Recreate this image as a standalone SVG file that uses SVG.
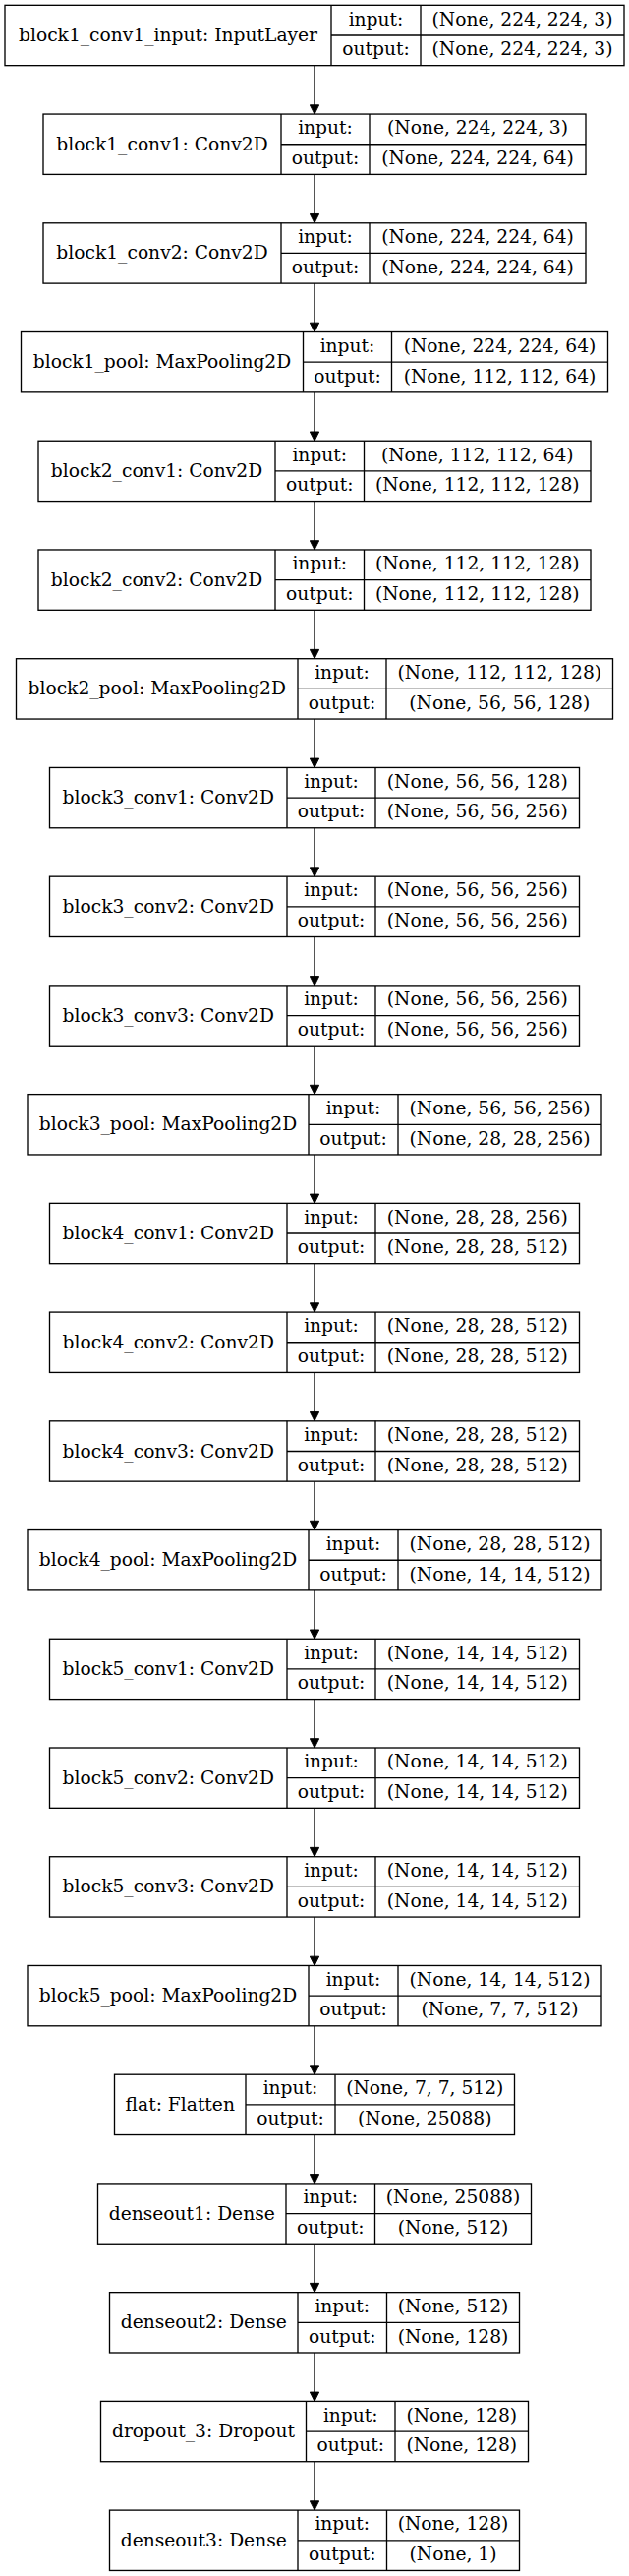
<svg xmlns="http://www.w3.org/2000/svg" width="640" height="2619" viewBox="0 0 640 2619">
<style>
.n rect{fill:#fff;stroke:#000;stroke-width:1.33}
.n line{stroke:#000;stroke-width:1.33}
text{font-family:"DejaVu Serif","Liberation Serif",serif;font-size:18.67px;text-anchor:middle;fill:#000}
.e line{stroke:#000;stroke-width:1.33}
</style>
<defs>
<marker id="ah" viewBox="0 0 10 10" refX="10" refY="5" markerWidth="13.33" markerHeight="9.33" markerUnits="userSpaceOnUse" orient="auto">
<path d="M0,0 L10,5 L0,10 z" fill="#000" stroke="#000"/>
</marker>
</defs>
<rect width="640" height="2619" fill="#fff"/>
<g id="connectors" class="e">
<line x1="320" y1="66.7" x2="320" y2="116.1" marker-end="url(#ah)"/>
<line x1="320" y1="177.4" x2="320" y2="226.8" marker-end="url(#ah)"/>
<line x1="320" y1="288.1" x2="320" y2="337.5" marker-end="url(#ah)"/>
<line x1="320" y1="398.9" x2="320" y2="448.3" marker-end="url(#ah)"/>
<line x1="320" y1="509.6" x2="320" y2="559.0" marker-end="url(#ah)"/>
<line x1="320" y1="620.3" x2="320" y2="669.7" marker-end="url(#ah)"/>
<line x1="320" y1="731.0" x2="320" y2="780.4" marker-end="url(#ah)"/>
<line x1="320" y1="841.8" x2="320" y2="891.2" marker-end="url(#ah)"/>
<line x1="320" y1="952.5" x2="320" y2="1001.9" marker-end="url(#ah)"/>
<line x1="320" y1="1063.2" x2="320" y2="1112.6" marker-end="url(#ah)"/>
<line x1="320" y1="1174.0" x2="320" y2="1223.4" marker-end="url(#ah)"/>
<line x1="320" y1="1284.7" x2="320" y2="1334.1" marker-end="url(#ah)"/>
<line x1="320" y1="1395.4" x2="320" y2="1444.8" marker-end="url(#ah)"/>
<line x1="320" y1="1506.2" x2="320" y2="1555.6" marker-end="url(#ah)"/>
<line x1="320" y1="1616.9" x2="320" y2="1666.3" marker-end="url(#ah)"/>
<line x1="320" y1="1727.6" x2="320" y2="1777.0" marker-end="url(#ah)"/>
<line x1="320" y1="1838.3" x2="320" y2="1887.7" marker-end="url(#ah)"/>
<line x1="320" y1="1949.1" x2="320" y2="1998.5" marker-end="url(#ah)"/>
<line x1="320" y1="2059.8" x2="320" y2="2109.2" marker-end="url(#ah)"/>
<line x1="320" y1="2170.5" x2="320" y2="2219.9" marker-end="url(#ah)"/>
<line x1="320" y1="2281.3" x2="320" y2="2330.7" marker-end="url(#ah)"/>
<line x1="320" y1="2392.0" x2="320" y2="2441.4" marker-end="url(#ah)"/>
<line x1="320" y1="2502.7" x2="320" y2="2552.1" marker-end="url(#ah)"/>
</g>

<g id="block1_conv1_input" class="n" transform="translate(0,5.33)">
<rect x="5" y="0" width="630" height="61.33"/>
<line x1="337" y1="0" x2="337" y2="61.33"/><line x1="428" y1="0" x2="428" y2="61.33"/><line x1="337" y1="30.67" x2="635" y2="30.67"/>
<text x="171" y="36.7">block1_conv1_input: InputLayer</text>
<text x="382.5" y="20.3">input:</text><text x="382.5" y="51">output:</text>
<text x="531.5" y="20.3">(None, 224, 224, 3)</text><text x="531.5" y="51">(None, 224, 224, 3)</text>
</g>

<g id="block1_conv1" class="n" transform="translate(0,116.06)">
<rect x="44" y="0" width="552" height="61.33"/>
<line x1="286" y1="0" x2="286" y2="61.33"/><line x1="376" y1="0" x2="376" y2="61.33"/><line x1="286" y1="30.67" x2="596" y2="30.67"/>
<text x="165" y="36.7">block1_conv1: Conv2D</text>
<text x="331" y="20.3">input:</text><text x="331" y="51">output:</text>
<text x="486" y="20.3">(None, 224, 224, 3)</text><text x="486" y="51">(None, 224, 224, 64)</text>
</g>

<g id="block1_conv2" class="n" transform="translate(0,226.79)">
<rect x="44" y="0" width="552" height="61.33"/>
<line x1="286" y1="0" x2="286" y2="61.33"/><line x1="376" y1="0" x2="376" y2="61.33"/><line x1="286" y1="30.67" x2="596" y2="30.67"/>
<text x="165" y="36.7">block1_conv2: Conv2D</text>
<text x="331" y="20.3">input:</text><text x="331" y="51">output:</text>
<text x="486" y="20.3">(None, 224, 224, 64)</text><text x="486" y="51">(None, 224, 224, 64)</text>
</g>

<g id="block1_pool" class="n" transform="translate(0,337.52)">
<rect x="21.5" y="0" width="597" height="61.33"/>
<line x1="308.5" y1="0" x2="308.5" y2="61.33"/><line x1="398.5" y1="0" x2="398.5" y2="61.33"/><line x1="308.5" y1="30.67" x2="618.5" y2="30.67"/>
<text x="165" y="36.7">block1_pool: MaxPooling2D</text>
<text x="353.5" y="20.3">input:</text><text x="353.5" y="51">output:</text>
<text x="508.5" y="20.3">(None, 224, 224, 64)</text><text x="508.5" y="51">(None, 112, 112, 64)</text>
</g>

<g id="block2_conv1" class="n" transform="translate(0,448.25)">
<rect x="39" y="0" width="562" height="61.33"/>
<line x1="280" y1="0" x2="280" y2="61.33"/><line x1="370.5" y1="0" x2="370.5" y2="61.33"/><line x1="280" y1="30.67" x2="601" y2="30.67"/>
<text x="159.5" y="36.7">block2_conv1: Conv2D</text>
<text x="325.25" y="20.3">input:</text><text x="325.25" y="51">output:</text>
<text x="485.75" y="20.3">(None, 112, 112, 64)</text><text x="485.75" y="51">(None, 112, 112, 128)</text>
</g>

<g id="block2_conv2" class="n" transform="translate(0,558.98)">
<rect x="39" y="0" width="562" height="61.33"/>
<line x1="280" y1="0" x2="280" y2="61.33"/><line x1="370.5" y1="0" x2="370.5" y2="61.33"/><line x1="280" y1="30.67" x2="601" y2="30.67"/>
<text x="159.5" y="36.7">block2_conv2: Conv2D</text>
<text x="325.25" y="20.3">input:</text><text x="325.25" y="51">output:</text>
<text x="485.75" y="20.3">(None, 112, 112, 128)</text><text x="485.75" y="51">(None, 112, 112, 128)</text>
</g>

<g id="block2_pool" class="n" transform="translate(0,669.71)">
<rect x="16.5" y="0" width="607" height="61.33"/>
<line x1="303" y1="0" x2="303" y2="61.33"/><line x1="393" y1="0" x2="393" y2="61.33"/><line x1="303" y1="30.67" x2="623.5" y2="30.67"/>
<text x="159.75" y="36.7">block2_pool: MaxPooling2D</text>
<text x="348" y="20.3">input:</text><text x="348" y="51">output:</text>
<text x="508.25" y="20.3">(None, 112, 112, 128)</text><text x="508.25" y="51">(None, 56, 56, 128)</text>
</g>

<g id="block3_conv1" class="n" transform="translate(0,780.44)">
<rect x="50.5" y="0" width="539" height="61.33"/>
<line x1="292" y1="0" x2="292" y2="61.33"/><line x1="382" y1="0" x2="382" y2="61.33"/><line x1="292" y1="30.67" x2="589.5" y2="30.67"/>
<text x="171.25" y="36.7">block3_conv1: Conv2D</text>
<text x="337" y="20.3">input:</text><text x="337" y="51">output:</text>
<text x="485.75" y="20.3">(None, 56, 56, 128)</text><text x="485.75" y="51">(None, 56, 56, 256)</text>
</g>

<g id="block3_conv2" class="n" transform="translate(0,891.17)">
<rect x="50.5" y="0" width="539" height="61.33"/>
<line x1="292" y1="0" x2="292" y2="61.33"/><line x1="382" y1="0" x2="382" y2="61.33"/><line x1="292" y1="30.67" x2="589.5" y2="30.67"/>
<text x="171.25" y="36.7">block3_conv2: Conv2D</text>
<text x="337" y="20.3">input:</text><text x="337" y="51">output:</text>
<text x="485.75" y="20.3">(None, 56, 56, 256)</text><text x="485.75" y="51">(None, 56, 56, 256)</text>
</g>

<g id="block3_conv3" class="n" transform="translate(0,1001.9)">
<rect x="50.5" y="0" width="539" height="61.33"/>
<line x1="292" y1="0" x2="292" y2="61.33"/><line x1="382" y1="0" x2="382" y2="61.33"/><line x1="292" y1="30.67" x2="589.5" y2="30.67"/>
<text x="171.25" y="36.7">block3_conv3: Conv2D</text>
<text x="337" y="20.3">input:</text><text x="337" y="51">output:</text>
<text x="485.75" y="20.3">(None, 56, 56, 256)</text><text x="485.75" y="51">(None, 56, 56, 256)</text>
</g>

<g id="block3_pool" class="n" transform="translate(0,1112.63)">
<rect x="28" y="0" width="584" height="61.33"/>
<line x1="314" y1="0" x2="314" y2="61.33"/><line x1="405" y1="0" x2="405" y2="61.33"/><line x1="314" y1="30.67" x2="612" y2="30.67"/>
<text x="171" y="36.7">block3_pool: MaxPooling2D</text>
<text x="359.5" y="20.3">input:</text><text x="359.5" y="51">output:</text>
<text x="508.5" y="20.3">(None, 56, 56, 256)</text><text x="508.5" y="51">(None, 28, 28, 256)</text>
</g>

<g id="block4_conv1" class="n" transform="translate(0,1223.36)">
<rect x="50.5" y="0" width="539" height="61.33"/>
<line x1="292" y1="0" x2="292" y2="61.33"/><line x1="382" y1="0" x2="382" y2="61.33"/><line x1="292" y1="30.67" x2="589.5" y2="30.67"/>
<text x="171.25" y="36.7">block4_conv1: Conv2D</text>
<text x="337" y="20.3">input:</text><text x="337" y="51">output:</text>
<text x="485.75" y="20.3">(None, 28, 28, 256)</text><text x="485.75" y="51">(None, 28, 28, 512)</text>
</g>

<g id="block4_conv2" class="n" transform="translate(0,1334.09)">
<rect x="50.5" y="0" width="539" height="61.33"/>
<line x1="292" y1="0" x2="292" y2="61.33"/><line x1="382" y1="0" x2="382" y2="61.33"/><line x1="292" y1="30.67" x2="589.5" y2="30.67"/>
<text x="171.25" y="36.7">block4_conv2: Conv2D</text>
<text x="337" y="20.3">input:</text><text x="337" y="51">output:</text>
<text x="485.75" y="20.3">(None, 28, 28, 512)</text><text x="485.75" y="51">(None, 28, 28, 512)</text>
</g>

<g id="block4_conv3" class="n" transform="translate(0,1444.82)">
<rect x="50.5" y="0" width="539" height="61.33"/>
<line x1="292" y1="0" x2="292" y2="61.33"/><line x1="382" y1="0" x2="382" y2="61.33"/><line x1="292" y1="30.67" x2="589.5" y2="30.67"/>
<text x="171.25" y="36.7">block4_conv3: Conv2D</text>
<text x="337" y="20.3">input:</text><text x="337" y="51">output:</text>
<text x="485.75" y="20.3">(None, 28, 28, 512)</text><text x="485.75" y="51">(None, 28, 28, 512)</text>
</g>

<g id="block4_pool" class="n" transform="translate(0,1555.55)">
<rect x="28" y="0" width="584" height="61.33"/>
<line x1="314" y1="0" x2="314" y2="61.33"/><line x1="405" y1="0" x2="405" y2="61.33"/><line x1="314" y1="30.67" x2="612" y2="30.67"/>
<text x="171" y="36.7">block4_pool: MaxPooling2D</text>
<text x="359.5" y="20.3">input:</text><text x="359.5" y="51">output:</text>
<text x="508.5" y="20.3">(None, 28, 28, 512)</text><text x="508.5" y="51">(None, 14, 14, 512)</text>
</g>

<g id="block5_conv1" class="n" transform="translate(0,1666.28)">
<rect x="50.5" y="0" width="539" height="61.33"/>
<line x1="292" y1="0" x2="292" y2="61.33"/><line x1="382" y1="0" x2="382" y2="61.33"/><line x1="292" y1="30.67" x2="589.5" y2="30.67"/>
<text x="171.25" y="36.7">block5_conv1: Conv2D</text>
<text x="337" y="20.3">input:</text><text x="337" y="51">output:</text>
<text x="485.75" y="20.3">(None, 14, 14, 512)</text><text x="485.75" y="51">(None, 14, 14, 512)</text>
</g>

<g id="block5_conv2" class="n" transform="translate(0,1777.01)">
<rect x="50.5" y="0" width="539" height="61.33"/>
<line x1="292" y1="0" x2="292" y2="61.33"/><line x1="382" y1="0" x2="382" y2="61.33"/><line x1="292" y1="30.67" x2="589.5" y2="30.67"/>
<text x="171.25" y="36.7">block5_conv2: Conv2D</text>
<text x="337" y="20.3">input:</text><text x="337" y="51">output:</text>
<text x="485.75" y="20.3">(None, 14, 14, 512)</text><text x="485.75" y="51">(None, 14, 14, 512)</text>
</g>

<g id="block5_conv3" class="n" transform="translate(0,1887.74)">
<rect x="50.5" y="0" width="539" height="61.33"/>
<line x1="292" y1="0" x2="292" y2="61.33"/><line x1="382" y1="0" x2="382" y2="61.33"/><line x1="292" y1="30.67" x2="589.5" y2="30.67"/>
<text x="171.25" y="36.7">block5_conv3: Conv2D</text>
<text x="337" y="20.3">input:</text><text x="337" y="51">output:</text>
<text x="485.75" y="20.3">(None, 14, 14, 512)</text><text x="485.75" y="51">(None, 14, 14, 512)</text>
</g>

<g id="block5_pool" class="n" transform="translate(0,1998.47)">
<rect x="28" y="0" width="584" height="61.33"/>
<line x1="314" y1="0" x2="314" y2="61.33"/><line x1="405" y1="0" x2="405" y2="61.33"/><line x1="314" y1="30.67" x2="612" y2="30.67"/>
<text x="171" y="36.7">block5_pool: MaxPooling2D</text>
<text x="359.5" y="20.3">input:</text><text x="359.5" y="51">output:</text>
<text x="508.5" y="20.3">(None, 14, 14, 512)</text><text x="508.5" y="51">(None, 7, 7, 512)</text>
</g>

<g id="flat" class="n" transform="translate(0,2109.2)">
<rect x="116.5" y="0" width="407" height="61.33"/>
<line x1="250" y1="0" x2="250" y2="61.33"/><line x1="341" y1="0" x2="341" y2="61.33"/><line x1="250" y1="30.67" x2="523.5" y2="30.67"/>
<text x="183.25" y="36.7">flat: Flatten</text>
<text x="295.5" y="20.3">input:</text><text x="295.5" y="51">output:</text>
<text x="432.25" y="20.3">(None, 7, 7, 512)</text><text x="432.25" y="51">(None, 25088)</text>
</g>

<g id="denseout1" class="n" transform="translate(0,2219.93)">
<rect x="99.5" y="0" width="441" height="61.33"/>
<line x1="291" y1="0" x2="291" y2="61.33"/><line x1="381.5" y1="0" x2="381.5" y2="61.33"/><line x1="291" y1="30.67" x2="540.5" y2="30.67"/>
<text x="195.25" y="36.7">denseout1: Dense</text>
<text x="336.25" y="20.3">input:</text><text x="336.25" y="51">output:</text>
<text x="461" y="20.3">(None, 25088)</text><text x="461" y="51">(None, 512)</text>
</g>

<g id="denseout2" class="n" transform="translate(0,2330.66)">
<rect x="111.5" y="0" width="417" height="61.33"/>
<line x1="303" y1="0" x2="303" y2="61.33"/><line x1="393.5" y1="0" x2="393.5" y2="61.33"/><line x1="303" y1="30.67" x2="528.5" y2="30.67"/>
<text x="207.25" y="36.7">denseout2: Dense</text>
<text x="348.25" y="20.3">input:</text><text x="348.25" y="51">output:</text>
<text x="461" y="20.3">(None, 512)</text><text x="461" y="51">(None, 128)</text>
</g>

<g id="dropout_3" class="n" transform="translate(0,2441.39)">
<rect x="102.5" y="0" width="435" height="61.33"/>
<line x1="311.5" y1="0" x2="311.5" y2="61.33"/><line x1="402" y1="0" x2="402" y2="61.33"/><line x1="311.5" y1="30.67" x2="537.5" y2="30.67"/>
<text x="207" y="36.7">dropout_3: Dropout</text>
<text x="356.75" y="20.3">input:</text><text x="356.75" y="51">output:</text>
<text x="469.75" y="20.3">(None, 128)</text><text x="469.75" y="51">(None, 128)</text>
</g>

<g id="denseout3" class="n" transform="translate(0,2552.12)">
<rect x="111.5" y="0" width="417" height="61.33"/>
<line x1="303" y1="0" x2="303" y2="61.33"/><line x1="393.5" y1="0" x2="393.5" y2="61.33"/><line x1="303" y1="30.67" x2="528.5" y2="30.67"/>
<text x="207.25" y="36.7">denseout3: Dense</text>
<text x="348.25" y="20.3">input:</text><text x="348.25" y="51">output:</text>
<text x="461" y="20.3">(None, 128)</text><text x="461" y="51">(None, 1)</text>
</g>
</svg>
